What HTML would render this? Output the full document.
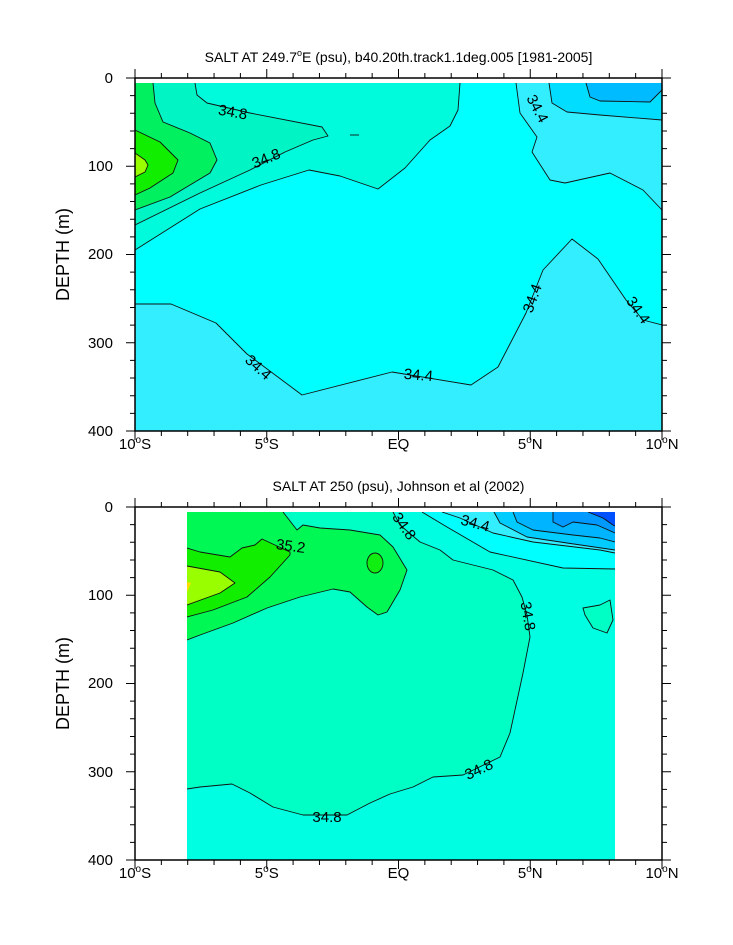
<!DOCTYPE html>
<html><head><style>body{margin:0;background:#fff}svg{display:block}text{font-family:"Liberation Sans",sans-serif}</style></head>
<body>
<svg width="733" height="945" viewBox="0 0 733 945" xmlns="http://www.w3.org/2000/svg">
<defs>
<clipPath id="c1"><rect x="135" y="83" width="527" height="348"/></clipPath>
<clipPath id="c2"><rect x="187" y="512" width="428" height="348"/></clipPath>
</defs>
<!-- PLOT 1 -->
<g clip-path="url(#c1)" stroke="none">
<rect x="135" y="83" width="527" height="348" fill="#33eeff"/>
<polygon fill="#00ffff" points="135,83 516,83 520,113 537,137 532,152 550,180 565,183 610,173 643,190 662,210 662,325 643,320 626,300 598,259 572,239 543,270 526,313 498,367 471,385 392,372 302,395 247,354 216,323 171,304 135,304"/>
<polygon fill="#00fbdc" points="135,250 200,209 261,185 309,170 340,176 378,189 405,168 430,140 450,126 458,110 460,83 135,83"/>
<polygon fill="#00f4c4" points="135,225 200,193 250,170 285,152 313,140 328,136 322,127 250,113 207,103 197,95 195,83 135,83"/>
<polygon fill="#00f060" points="153,83 155,103 163,122 190,133 210,143 217,160 210,173 170,197 135,210 135,83"/>
<polygon fill="#11ee00" points="135,130 160,142 178,160 173,173 150,188 135,195"/>
<polygon fill="#99ff00" points="135,153 145,160 148,165 145,172 135,177"/>
<polygon fill="#00ddff" points="549,83 552,103 567,112 600,115 662,120 662,83"/>
<polygon fill="#00bbff" points="586,83 590,97 600,101 650,102 662,90 662,83"/>
</g>
<g clip-path="url(#c1)" fill="none" stroke="#111" stroke-width="0.9" stroke-linejoin="round">
<polyline points="516,83 520,113 537,137 532,152 550,180 565,183 610,173 643,190 662,210"/>
<polyline points="662,325 643,320 626,300 598,259 572,239 543,270 526,313 498,367 471,385 392,372 302,395 247,354 216,323 171,304 135,304"/>
<polyline points="135,250 200,209 261,185 309,170 340,176 378,189 405,168 430,140 450,126 458,110 460,83"/>
<polyline points="135,225 200,193 250,170 285,152 313,140 328,136 322,127 250,113 207,103 197,95 195,83"/>
<polyline points="153,83 155,103 163,122 190,133 210,143 217,160 210,173 170,197 135,210"/>
<polyline points="135,130 160,142 178,160 173,173 150,188 135,195"/>
<polyline points="135,153 145,160 148,165 145,172 135,177"/>
<polyline points="549,83 552,103 567,112 600,115 662,120"/>
<polyline points="586,83 590,97 600,101 650,102 662,90"/>
<line x1="350" y1="135" x2="359" y2="135"/>
</g>
<g font-size="15" fill="#000" text-anchor="middle">
<text transform="translate(232,117) rotate(10)">34.8</text>
<text transform="translate(268,163) rotate(-22)">34.8</text>
<text transform="translate(533,111) rotate(62)">34.4</text>
<text transform="translate(255,371) rotate(42)">34.4</text>
<text transform="translate(418,380) rotate(5)">34.4</text>
<text transform="translate(537,300) rotate(-70)">34.4</text>
<text transform="translate(634,313) rotate(55)">34.4</text>
</g>
<!-- PLOT 2 -->
<g clip-path="url(#c2)" stroke="none">
<rect x="187" y="512" width="428" height="348" fill="#00ffe2"/>
<polygon fill="#00ffc4" points="187,789 200,787 232,784 250,793 273,807 303,815 347,815 370,803 390,794 413,787 433,777 463,775 500,757 510,733 523,673 530,637 527,615 522,597 513,580 493,570 453,560 440,550 420,542 400,525 393,512 187,512"/>
<polygon fill="#00ffc4" points="585,615 593,628 607,633 613,620 610,600 600,605 583,608"/>
<polygon fill="#00f855" points="283,512 297,530 303,525 320,528 350,530 380,535 393,547 407,570 400,590 387,612 378,615 367,607 350,592 333,589 300,597 267,608 233,623 200,635 187,640 187,512"/>
<ellipse cx="375" cy="563" rx="8" ry="10" fill="#11ee11"/>
<polygon fill="#11ee00" points="187,548 200,552 230,557 242,548 255,545 262,539 290,552 290,555 270,577 247,597 213,610 187,617"/>
<polygon fill="#99ff00" points="187,566 220,572 235,583 220,593 187,605"/>
<polygon fill="#ffdd00" points="187,582 191,583 187,592"/>
<polygon fill="#00ffff" points="422,512 447,527 490,552 563,568 615,569 615,512"/>
<polygon fill="#33eeff" points="442,512 460,518 493,533 533,542 600,550 615,553 615,512"/>
<polygon fill="#00ccff" points="494,512 500,523 527,537 567,543 615,550 615,512"/>
<polygon fill="#00b4ff" points="513,512 517,522 533,530 573,535 600,538 615,542 615,512"/>
<polygon fill="#0099ff" points="553,512 553,522 563,527 573,522 597,525 615,533 615,512"/>
<polygon fill="#0050ff" points="588,512 603,518 613,525 615,526 615,512"/>
</g>
<g clip-path="url(#c2)" fill="none" stroke="#111" stroke-width="0.9" stroke-linejoin="round">
<polyline points="187,789 200,787 232,784 250,793 273,807 303,815 347,815 370,803 390,794 413,787 433,777 463,775 500,757 510,733 523,673 530,637 527,615 522,597 513,580 493,570 453,560 440,550 420,542 400,525 393,512"/>
<polygon points="585,615 593,628 607,633 613,620 610,600 600,605 583,608"/>
<polyline points="283,512 297,530 303,525 320,528 350,530 380,535 393,547 407,570 400,590 387,612 378,615 367,607 350,592 333,589 300,597 267,608 233,623 200,635 187,640"/>
<ellipse cx="375" cy="563" rx="8" ry="10"/>
<polyline points="187,548 200,552 230,557 242,548 255,545 262,539 290,552 290,555 270,577 247,597 213,610 187,617"/>
<polyline points="187,566 220,572 235,583 220,593 187,605"/>
<polyline points="422,512 447,527 490,552 563,568 615,569"/>
<polyline points="442,512 460,518 493,533 533,542 600,550 615,553"/>
<polyline points="494,512 500,523 527,537 567,543 615,550"/>
<polyline points="513,512 517,522 533,530 573,535 600,538 615,542"/>
<polyline points="553,512 553,522 563,527 573,522 597,525 615,533"/>
<polyline points="588,512 603,518 613,525 615,526"/>
</g>
<g font-size="15" fill="#000" text-anchor="middle">
<text transform="translate(290,551) rotate(8)">35.2</text>
<text transform="translate(400,529) rotate(55)">34.8</text>
<text transform="translate(474,528) rotate(15)">34.4</text>
<text transform="translate(523,617) rotate(80)">34.8</text>
<text transform="translate(481,774) rotate(-25)">34.8</text>
<text transform="translate(327,822)">34.8</text>
</g>
<!-- AXES -->
<g id="ax1" stroke="#000" fill="none">
<rect x="135" y="78" width="527" height="353" stroke-width="1.5"/>
<path stroke-width="1" d="
M135,431v9M266.75,431v9M398.5,431v9M530.25,431v9M662,431v9
M135,78v-9M266.75,78v-9M398.5,78v-9M530.25,78v-9M662,78v-9
M161.35,431v5M187.7,431v5M214.05,431v5M240.4,431v5M293.1,431v5M319.45,431v5M345.8,431v5M372.15,431v5M424.85,431v5M451.2,431v5M477.55,431v5M503.9,431v5M556.6,431v5M582.95,431v5M609.3,431v5M635.65,431v5
M161.35,78v-5M187.7,78v-5M214.05,78v-5M240.4,78v-5M293.1,78v-5M319.45,78v-5M345.8,78v-5M372.15,78v-5M424.85,78v-5M451.2,78v-5M477.55,78v-5M503.9,78v-5M556.6,78v-5M582.95,78v-5M609.3,78v-5M635.65,78v-5
M135,78h-9M135,166.25h-9M135,254.5h-9M135,342.75h-9M135,431h-9
M662,78h9M662,166.25h9M662,254.5h9M662,342.75h9M662,431h9
M135,95.65h-5M135,113.3h-5M135,130.95h-5M135,148.6h-5M135,183.9h-5M135,201.55h-5M135,219.2h-5M135,236.85h-5M135,272.15h-5M135,289.8h-5M135,307.45h-5M135,325.1h-5M135,360.4h-5M135,378.05h-5M135,395.7h-5M135,413.35h-5
M662,95.65h5M662,113.3h5M662,130.95h5M662,148.6h5M662,183.9h5M662,201.55h5M662,219.2h5M662,236.85h5M662,272.15h5M662,289.8h5M662,307.45h5M662,325.1h5M662,360.4h5M662,378.05h5M662,395.7h5M662,413.35h5"/>
</g>
<use href="#ax1" y="429"/>
<g font-size="15" fill="#000">
<g text-anchor="end">
<text x="113" y="83">0</text><text x="113" y="171">100</text><text x="113" y="259">200</text><text x="113" y="348">300</text><text x="113" y="436">400</text>
<text x="113" y="512">0</text><text x="113" y="600">100</text><text x="113" y="688">200</text><text x="113" y="777">300</text><text x="113" y="865">400</text>
</g>
<g text-anchor="middle">
<text x="135" y="449">10<tspan font-size="10" dy="-6">o</tspan><tspan dy="6">S</tspan></text>
<text x="266.75" y="449">5<tspan font-size="10" dy="-6">o</tspan><tspan dy="6">S</tspan></text>
<text x="398.5" y="449">EQ</text>
<text x="530.25" y="449">5<tspan font-size="10" dy="-6">o</tspan><tspan dy="6">N</tspan></text>
<text x="662" y="449">10<tspan font-size="10" dy="-6">o</tspan><tspan dy="6">N</tspan></text>
<text x="135" y="878">10<tspan font-size="10" dy="-6">o</tspan><tspan dy="6">S</tspan></text>
<text x="266.75" y="878">5<tspan font-size="10" dy="-6">o</tspan><tspan dy="6">S</tspan></text>
<text x="398.5" y="878">EQ</text>
<text x="530.25" y="878">5<tspan font-size="10" dy="-6">o</tspan><tspan dy="6">N</tspan></text>
<text x="662" y="878">10<tspan font-size="10" dy="-6">o</tspan><tspan dy="6">N</tspan></text>
<text x="398.5" y="62" font-size="14">SALT AT 249.7<tspan font-size="9" dy="-6">o</tspan><tspan dy="6">E (psu), b40.20th.track1.1deg.005 [1981-2005]</tspan></text>
<text x="398.5" y="491" font-size="14">SALT AT 250 (psu), Johnson et al (2002)</text>
</g>
<text font-size="18" text-anchor="middle" transform="translate(69,254.5) rotate(-90)">DEPTH (m)</text>
<text font-size="18" text-anchor="middle" transform="translate(69,683.5) rotate(-90)">DEPTH (m)</text>
</g>
</svg>
</body></html>
